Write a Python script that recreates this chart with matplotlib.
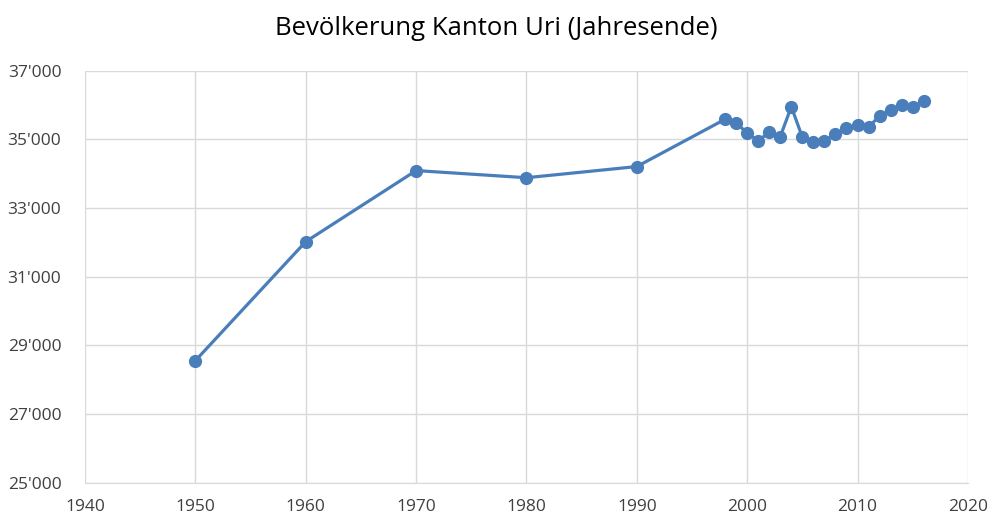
import matplotlib
matplotlib.use("Agg")
import matplotlib.pyplot as plt
from matplotlib.ticker import FuncFormatter, FixedLocator, MultipleLocator

years = [1950, 1960, 1970, 1980, 1990, 1998, 1999, 2000, 2001, 2002, 2003, 2004,
         2005, 2006, 2007, 2008, 2009, 2010, 2011, 2012, 2013, 2014, 2015, 2016]
population = [28556, 32021, 34091, 33883, 34208, 35586, 35487, 35178, 34962, 35207,
              35079, 35953, 35061, 34933, 34962, 35157, 35323, 35420, 35352, 35690,
              35856, 36002, 35935, 36127]
y_ticks = [25000, 27000, 29000, 31000, 33000, 35000, 37000]
title = "Bevölkerung Kanton Uri (Jahresende)"

plt.rcParams['font.family'] = ['Open Sans', 'DejaVu Sans']

fig = plt.figure(figsize=(9.92, 5.16), dpi=100)
ax = fig.add_axes([0.0857, 0.0645, 0.89, 0.7985])

ax.plot(years, population, color='#4a7ebb', lw=2.3, marker='o', ms=8.5,
        markerfacecolor='#4a7ebb', markeredgecolor='#4a7ebb', zorder=3, clip_on=False)

ax.set_xlim(1940, 2020)
ax.set_ylim(25000, 37000)
ax.xaxis.set_major_locator(MultipleLocator(10))
ax.yaxis.set_major_locator(FixedLocator(y_ticks))
ax.yaxis.set_major_formatter(FuncFormatter(lambda v, p: f"{int(v):,}".replace(",", "'")))

ax.grid(True, color='#d9d9d9', lw=1)
ax.set_axisbelow(True)
for s in ax.spines.values():
    s.set_visible(False)
ax.spines['bottom'].set_visible(True)
ax.spines['bottom'].set_color('#d9d9d9')
ax.tick_params(length=0, labelsize=12.5, colors='#404040')
ax.tick_params(axis='x', pad=12)
ax.tick_params(axis='y', pad=17)

fig.text(0.5, 0.945, title, ha='center', va='center', fontsize=18.5, color='#000000')

fig.savefig("out.png", dpi=100, facecolor='white')
